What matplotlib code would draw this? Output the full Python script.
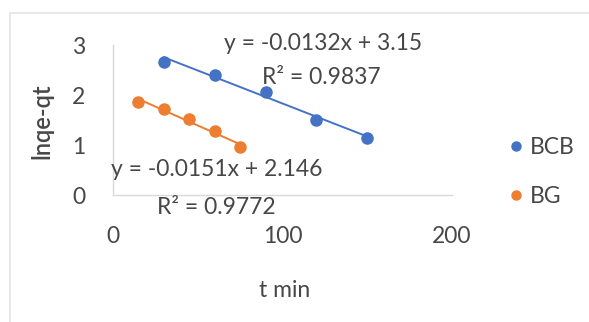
import matplotlib
matplotlib.use("Agg")
import matplotlib.pyplot as plt
from matplotlib.patches import Rectangle
from matplotlib.lines import Line2D

plt.rcParams['font.family'] = ['Lato', 'DejaVu Sans']

# Data
t_bcb = [30, 60, 90, 120, 150]
y_bcb = [2.66, 2.40, 2.06, 1.50, 1.14]
t_bg = [15, 30, 45, 60, 75]
y_bg = [1.86, 1.72, 1.52, 1.28, 0.96]

# Trendline coefficients (from labels)
slope_bcb, icpt_bcb, r2_bcb = -0.0132, 3.15, 0.9837
slope_bg, icpt_bg, r2_bg = -0.0151, 2.146, 0.9772

series_names = ["BCB", "BG"]
x_ticks = [0, 100, 200]
y_ticks = [0, 1, 2, 3]

blue = "#4472C4"
orange = "#ED7D31"
txt = "#474747"
fs = 16.5

fig = plt.figure(figsize=(5.89, 3.22), dpi=100)
fig.patch.set_facecolor("white")
# faint outer border
fig.patches.append(Rectangle((10/589, -0.05), 1.0, (322-13)/322 + 0.05,
                             transform=fig.transFigure, fill=False,
                             edgecolor="#e4e4e4", linewidth=1.2))

ax = fig.add_axes([113/589, 1-195/322, (452-113)/589, (195-45)/322])
ax.set_xlim(0, 200)
ax.set_ylim(0, 3)
ax.set_xticks(x_ticks)
ax.set_yticks(y_ticks)
ax.tick_params(length=0, labelsize=fs, labelcolor=txt)
ax.tick_params(axis='y', pad=20)
ax.tick_params(axis='x', pad=22)
for s in ["top", "right"]:
    ax.spines[s].set_visible(False)
for s in ["left", "bottom"]:
    ax.spines[s].set_color("#d9d9d9")
    ax.spines[s].set_linewidth(1.0)

# trendlines
for t, slope, icpt, c in [(t_bcb, slope_bcb, icpt_bcb, blue), (t_bg, slope_bg, icpt_bg, orange)]:
    xs = [min(t), max(t)]
    ax.plot(xs, [slope*x + icpt for x in xs], color=c, lw=1.4, zorder=2)

ax.plot(t_bcb, y_bcb, 'o', color=blue, ms=8, zorder=3, label=series_names[0])
ax.plot(t_bg, y_bg, 'o', color=orange, ms=8, zorder=3, label=series_names[1])

# equation labels
ax.text(124, 3.04, f"y = {slope_bcb}x + {icpt_bcb}", ha="center", va="center",
        fontsize=fs, color=txt, clip_on=False)
ax.text(123, 2.36, f"R² = {r2_bcb}", ha="center", va="center",
        fontsize=fs, color=txt, clip_on=False)
ax.text(61, 0.5, f"y = {slope_bg}x + {icpt_bg}", ha="center", va="center",
        fontsize=fs, color=txt, clip_on=False)
ax.text(61, -0.24, f"R² = {r2_bg}", ha="center", va="center",
        fontsize=fs, color=txt, clip_on=False)

ax.set_xlabel("t min", fontsize=fs, color=txt)
ax.set_ylabel("lnqe-qt", fontsize=17, color=txt, fontweight="semibold")
ax.yaxis.set_label_coords((53-113)/339, (195-121)/150)
ax.xaxis.set_label_coords((285-113)/339, (195-280)/150)

handles = [Line2D([], [], marker='o', ls='', color=blue, ms=6.5),
           Line2D([], [], marker='o', ls='', color=orange, ms=6.5)]
leg = fig.legend(handles, series_names, loc="center left",
                 bbox_to_anchor=(505/589, 1-172/322), frameon=False,
                 fontsize=fs, labelcolor=txt, handletextpad=0.1,
                 handlelength=1.0, labelspacing=1.2, borderaxespad=0,
                 borderpad=0)

fig.savefig("out.png", dpi=100, facecolor="white")
